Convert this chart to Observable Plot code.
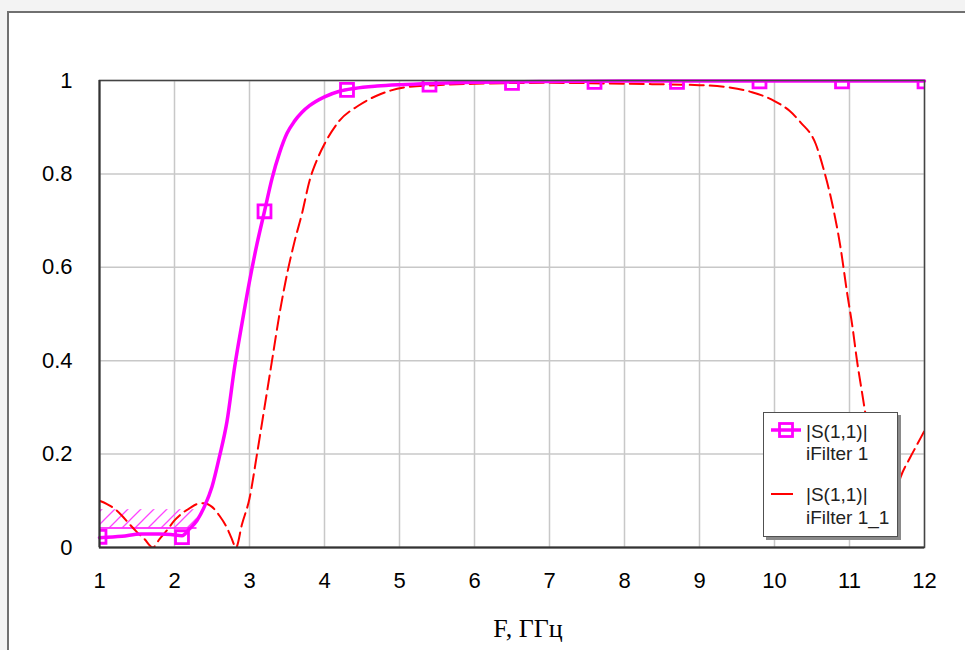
<!DOCTYPE html>
<html><head><meta charset="utf-8">
<script src="https://cdn.jsdelivr.net/npm/d3@7"></script>
<script src="https://cdn.jsdelivr.net/npm/@observablehq/plot@0.6"></script>
<style>
html,body{margin:0;padding:0;background:#f3f3f3;width:965px;height:650px;overflow:hidden;}
#frame{position:absolute;left:7px;top:11px;width:1000px;height:700px;background:#fff;border-left:2px solid #707070;border-top:2px solid #707070;}
#chart{position:absolute;left:0;top:0;}
#legend{position:absolute;left:763px;top:412px;width:133px;height:123px;background:#fff;border:1px solid #505050;box-shadow:3px 3px 0 #8a8a8a;}
</style></head><body>
<div id="frame"></div><div id="chart"></div><div id="legend"></div>
<script>
// |S(1,1)| iFilter 1 (solid magenta)
const freqA = [1.0,1.3,1.55,1.8,1.95,2.1,2.2,2.3,2.4,2.5,2.6,2.7,2.8,2.9,3.0,3.1,3.2,3.3,3.4,3.5,3.6,3.7,3.8,4.0,4.2,4.4,4.7,5.0,5.5,6.0,7.0,8.0,9.0,10.0,11.0,12.0];
const valsA = [0.021,0.024,0.029,0.029,0.028,0.025,0.04,0.058,0.088,0.13,0.195,0.27,0.385,0.48,0.57,0.65,0.72,0.79,0.845,0.887,0.913,0.932,0.946,0.965,0.977,0.983,0.988,0.991,0.994,0.996,0.998,0.999,0.999,0.999,0.999,0.999];
// markers of iFilter 1
const markF = [1,2.1,3.2,4.3,5.4,6.5,7.6,8.7,9.8,10.9,12];
const markV = [0.023,0.022,0.72,0.98,0.991,0.995,0.997,0.997,0.998,0.998,0.998];
// |S(1,1)| iFilter 1_1 (dashed red)
const freqB = [1.0,1.1,1.2,1.3,1.4,1.5,1.6,1.71,1.8,1.9,2.0,2.1,2.2,2.3,2.4,2.5,2.6,2.7,2.76,2.82,2.9,3.0,3.1,3.2,3.3,3.4,3.5,3.6,3.7,3.8,3.9,4.0,4.2,4.45,4.75,5.1,5.5,6.0,7.0,8.0,9.0,9.4,9.7,10.0,10.2,10.35,10.55,10.66,10.77,10.88,10.97,11.04,11.1,11.17,11.25,11.35,11.45,11.5,11.55,11.6,11.68,11.8,11.9,12.0];
const valsB = [0.1,0.093,0.083,0.068,0.05,0.033,0.018,0.0,0.018,0.037,0.058,0.073,0.084,0.093,0.095,0.087,0.068,0.042,0.02,0.0,0.05,0.105,0.2,0.3,0.4,0.5,0.585,0.655,0.715,0.785,0.83,0.864,0.914,0.946,0.971,0.986,0.99,0.993,0.995,0.993,0.99,0.985,0.975,0.956,0.935,0.91,0.864,0.807,0.736,0.643,0.543,0.472,0.4,0.329,0.25,0.17,0.1,0.075,0.08,0.105,0.15,0.19,0.22,0.25];
// goal region
const goalF1 = [1.0];
const goalF2 = [2.3];
const goalLo = [0.042];
const goalHi = [0.081];
// axes
const xTicks = [1,2,3,4,5,6,7,8,9,10,11,12];
const xTickLabels = ["1","2","3","4","5","6","7","8","9","10","11","12"];
const yTicks = [0,0.2,0.4,0.6,0.8,1];
const yTickLabels = ["0","0.2","0.4","0.6","0.8","1"];
const xLabel = "F, ГГц";
const seriesNames = [["|S(1,1)|","iFilter 1"],["|S(1,1)|","iFilter 1_1"]];

const dataA = freqA.map((f,i)=>({f, v: valsA[i]}));
const dataB = freqB.map((f,i)=>({f, v: valsB[i]}));
const marks = markF.map((f,i)=>({f, v: markV[i]}));
const goal = goalF1.map((f,i)=>({f1: f, f2: goalF2[i], lo: goalLo[i], hi: goalHi[i]}));

const MAG = "#ff00ff", RED = "#ff0000";

const chart = Plot.plot({
  width: 965, height: 650,
  marginLeft: 99, marginRight: 41, marginTop: 80, marginBottom: 103,
  x: {domain: [1, 12]},
  y: {domain: [0, 1]},
  style: {fontFamily: '"Liberation Sans", Arial, sans-serif', fontSize: "22px", color: "#000", background: "transparent", overflow: "visible"},
  marks: [
    Plot.gridX(xTicks, {stroke: "#c8c8c8", strokeOpacity: 1, strokeWidth: 1.5}),
    Plot.gridY(yTicks, {stroke: "#c8c8c8", strokeOpacity: 1, strokeWidth: 1.5}),
    Plot.rect(goal, {x1: "f1", x2: "f2", y1: "lo", y2: "hi", fill: "url(#hatch)"}),
    Plot.ruleY(goal, {x1: "f1", x2: "f2", y: "lo", stroke: MAG, strokeWidth: 1.5}),
    Plot.line(dataB, {x: "f", y: "v", stroke: RED, strokeWidth: 2, strokeDasharray: "14,6", curve: "monotone-x", clip: true}),
    Plot.line(dataA, {x: "f", y: "v", stroke: MAG, strokeWidth: 3.5, curve: "monotone-x"}),
    Plot.dot(marks, {x: "f", y: "v", symbol: "square", r: 7.3, stroke: MAG, strokeWidth: 2.8, fill: "none", clip: true}),
    Plot.frame({stroke: "#444", strokeWidth: 1.5}),
    Plot.ruleX([1], {stroke: "#333", strokeWidth: 2}),
    Plot.ruleY([0], {stroke: "#333", strokeWidth: 2}),
    Plot.axisX(xTicks, {tickSize: 0, tickPadding: 25, label: null, fontSize: 22, tickFormat: (d, i) => xTickLabels[i]}),
    Plot.axisY(yTicks, {tickSize: 0, tickPadding: 27, label: null, fontSize: 22, tickFormat: (d, i) => yTickLabels[i]}),
    Plot.text([xLabel], {text: d => d, frameAnchor: "bottom", lineAnchor: "bottom", dy: 89, dx: 16, fontFamily: '"Liberation Serif", "Times New Roman", serif', fontSize: 26, fill: "#000"})
  ]
});
d3.select(chart).insert("defs", ":first-child").html(
  '<pattern id="hatch" patternUnits="userSpaceOnUse" width="13" height="13">' +
  '<path d="M0,13L13,0M-3,3L3,-3M10,16L16,10" stroke="#ff44ff" stroke-width="1.3"/></pattern>');
document.getElementById("chart").appendChild(chart);

// legend
const lg = d3.select("#legend").append("svg").attr("width", 133).attr("height", 123)
  .style("font-family", '"Liberation Sans", Arial, sans-serif').style("font-size", "19px");
lg.append("line").attr("x1", 7).attr("x2", 37).attr("y1", 17).attr("y2", 17).attr("stroke", MAG).attr("stroke-width", 3.5);
lg.append("rect").attr("x", 15.5).attr("y", 10.5).attr("width", 13).attr("height", 13).attr("fill", "none").attr("stroke", MAG).attr("stroke-width", 2.8);
lg.append("line").attr("x1", 7).attr("x2", 29).attr("y1", 81).attr("y2", 81).attr("stroke", RED).attr("stroke-width", 2);
const baselines = [[25, 47], [88, 111]];
seriesNames.forEach((pair, s) => pair.forEach((t, k) => {
  lg.append("text").attr("x", 42).attr("y", baselines[s][k]).attr("fill", "#222").text(t);
}));
</script>
</body></html>
